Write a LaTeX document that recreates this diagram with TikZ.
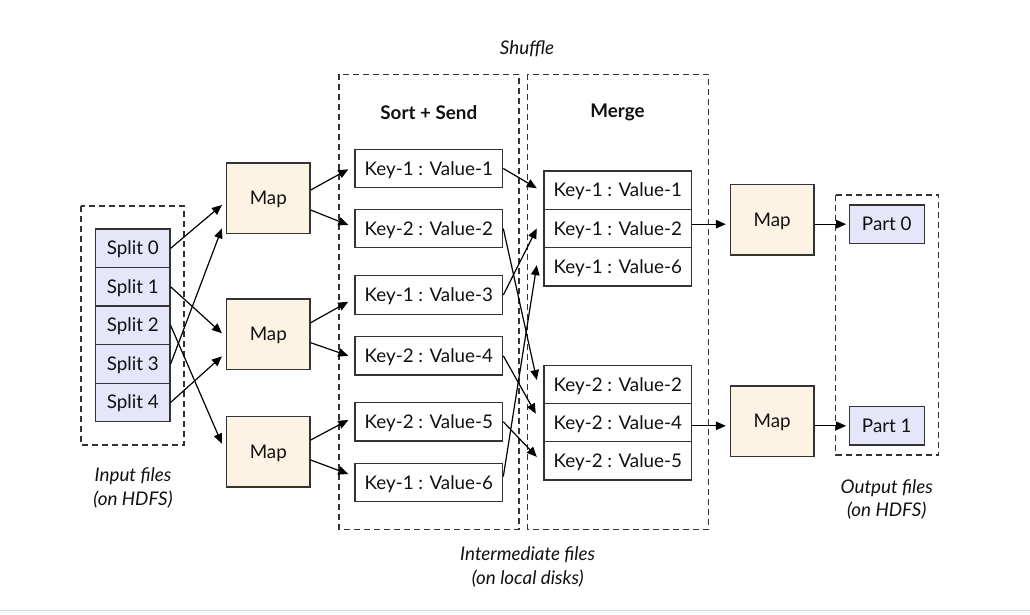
\documentclass[tikz,border=0pt]{standalone}
\usepackage{fontspec}
\setmainfont{Lato}
\usetikzlibrary{arrows.meta}
\definecolor{splitfill}{HTML}{E6E6FA}
\definecolor{mapfill}{HTML}{FDF3E5}
\definecolor{edgec}{HTML}{333333}
\definecolor{txt}{HTML}{111111}
\definecolor{rulec}{HTML}{D3DCE6}
\definecolor{underc}{HTML}{F7F9FB}
\begin{document}
\begin{tikzpicture}[x=1pt,y=-1pt,
  every node/.style={font=\fontsize{18.8}{23}\selectfont, text=txt},
  box/.style={draw=edgec, line width=1.3pt, inner sep=0pt, text height=16pt, text depth=3pt},
  splitbox/.style={box, fill=splitfill, minimum width=74.3pt, minimum height=38.5pt},
  mapbox/.style={box, fill=mapfill, minimum width=83.5pt, minimum height=70.5pt},
  kvbox/.style={box, fill=white, minimum width=147.7pt, minimum height=38.4pt},
  partbox/.style={box, fill=splitfill, minimum width=75pt, minimum height=38.3pt},
  group/.style={draw=edgec, line width=1.1pt, dash pattern=on 6pt off 4pt},
  title/.style={font=\fontsize{18.8}{23}\selectfont\bfseries},
  note/.style={font=\fontsize{18.8}{23.4}\selectfont\itshape, align=center},
  flow/.style={-{Triangle[length=10pt,width=8.5pt]}, line width=1.2pt, black},
]
\useasboundingbox (0,0) rectangle (1030,614);
\fill[white] (0,0) rectangle (1030,614);
\fill[underc] (0,611) rectangle (1030,614);
\fill[rulec] (0,609.5) rectangle (1030,611);

% group frames
\draw[group] (81,206) rectangle (184,445);
\draw[group] (339,74.3) rectangle (519,529.3);
\draw[group] (527.7,74.3) rectangle (708.3,529.3);
\draw[group] (835.7,195) rectangle (938.7,455);

% labels
\node[note] (shuf) at (527,49) {Shuffle};
\node[title] (sortt) at (428.8,112.3) {Sort + Send};
\node[title] (merget) at (617.5,112) {Merge};
\node[note] (inlbl) at (133,488) {Input files\\(on HDFS)};
\node[note] (midlbl) at (527.7,567) {Intermediate files\\(on local disks)};
\node[note] (outlbl) at (886.7,499.5) {Output files\\(on HDFS)};

% splits
\node[splitbox] (s0) at (132.85,248.3) {Split 0};
\node[splitbox] (s1) at (132.85,286.8) {Split 1};
\node[splitbox] (s2) at (132.85,325.4) {Split 2};
\node[splitbox] (s3) at (132.85,363.9) {Split 3};
\node[splitbox] (s4) at (132.85,402.4) {Split 4};

% maps
\node[mapbox] (m1) at (268.3,198.3) {Map};
\node[mapbox] (m2) at (268.3,334.3) {Map};
\node[mapbox] (m3) at (268.3,451.7) {Map};

% sort + send
\node[kvbox] (k1) at (428.8,168.5) {Key-1 : Value-1};
\node[kvbox] (k2) at (428.8,228.5) {Key-2 : Value-2};
\node[kvbox] (k3) at (428.8,295) {Key-1 : Value-3};
\node[kvbox] (k4) at (428.8,355.8) {Key-2 : Value-4};
\node[kvbox] (k5) at (428.8,421.8) {Key-2 : Value-5};
\node[kvbox] (k6) at (428.8,482.5) {Key-1 : Value-6};

% merge
\node[kvbox] (ma1) at (617.8,190.2) {Key-1 : Value-1};
\node[kvbox] (ma2) at (617.8,228.5) {Key-1 : Value-2};
\node[kvbox] (ma3) at (617.8,266.8) {Key-1 : Value-6};
\node[kvbox] (mb1) at (617.8,384.5) {Key-2 : Value-2};
\node[kvbox] (mb2) at (617.8,422.7) {Key-2 : Value-4};
\node[kvbox] (mb3) at (617.8,460.9) {Key-2 : Value-5};

% reduce
\node[mapbox] (rm1) at (772.2,219.7) {Map};
\node[mapbox] (rm2) at (772.2,421.3) {Map};

% parts
\node[partbox] (p0) at (886.8,224.2) {Part 0};
\node[partbox] (p1) at (886.8,425.8) {Part 1};

% split -> map
\draw[flow] (s0.east) -- ([xshift=-4pt,yshift=-6.7pt]m1.west);
\draw[flow] (s3.east) -- ([xshift=-4pt,yshift=-30pt]m1.west);
\draw[flow] (s1.east) -- ([xshift=-4pt,yshift=1pt]m2.west);
\draw[flow] (s4.east) -- ([xshift=-4pt,yshift=-22pt]m2.west);
\draw[flow] (s2.east) -- ([xshift=-4pt,yshift=8pt]m3.west);

% map -> sort
\draw[flow] ([yshift=8.3pt]m1.east) -- ([xshift=-6pt,yshift=-0.8pt]k1.west);
\draw[flow] ([yshift=-11.7pt]m1.east) -- ([xshift=-6pt,yshift=3.5pt]k2.west);
\draw[flow] ([yshift=11.6pt]m2.east) -- ([xshift=-6pt,yshift=-6.7pt]k3.west);
\draw[flow] ([yshift=-8.4pt]m2.east) -- ([xshift=-6pt]k4.west);
\draw[flow] ([yshift=11.7pt]m3.east) -- ([xshift=-6pt,yshift=1.8pt]k5.west);
\draw[flow] ([yshift=-8.3pt]m3.east) -- ([xshift=-6pt,yshift=8.5pt]k6.west);

% sort -> merge
\draw[flow] (k1.east) -- ([xshift=-6.5pt,yshift=2pt]ma1.west);
\draw[flow] (k2.east) -- ([xshift=-6.5pt,yshift=4.5pt]mb1.west);
\draw[flow] (k3.east) -- ([xshift=-6.5pt]ma2.west);
\draw[flow] (k4.east) -- ([xshift=-7.5pt,yshift=9pt]mb2.west);
\draw[flow] (k5.east) -- ([xshift=-6.5pt,yshift=4pt]mb3.west);
\draw[flow] ([yshift=6pt]k6.east) -- ([xshift=-6.5pt,yshift=1.7pt]ma3.west);

% merge -> reduce -> parts
\draw[flow, shorten >=4pt] (ma2.east |- p0.west) -- (rm1.west |- p0.west);
\draw[flow, shorten >=2.5pt] (rm1.east |- p0.west) -- (p0.west);
\draw[flow, shorten >=4pt] (mb2.east |- p1.west) -- (rm2.west |- p1.west);
\draw[flow, shorten >=2.5pt] (rm2.east |- p1.west) -- (p1.west);
\end{tikzpicture}
\end{document}
